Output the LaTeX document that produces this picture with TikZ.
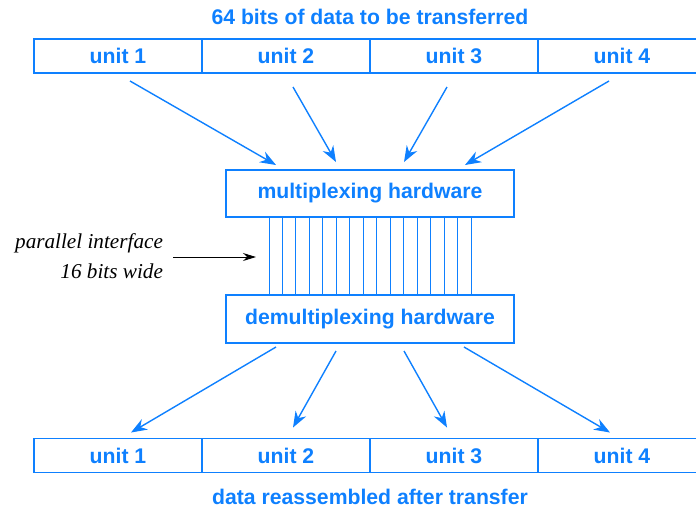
\documentclass[tikz,border=0pt]{standalone}
\usepackage{fontspec}
\setmainfont{Liberation Sans}
\newfontfamily\noteserif{Liberation Serif}
\usetikzlibrary{arrows.meta,positioning}
\definecolor{muxblue}{RGB}{14,128,255}

\begin{document}
\begin{tikzpicture}[
    x=0.5pt, y=-0.5pt,
    node distance=0pt,
    unitbox/.style={draw=muxblue, line width=0.85pt, text=muxblue, outer sep=0pt, minimum width=84pt, minimum height=17pt, font=\fontsize{10.6}{12}\selectfont\bfseries},
    hwbox/.style={draw=muxblue, line width=0.85pt, text=muxblue, outer sep=0pt, minimum width=144pt, minimum height=24pt, font=\fontsize{10.6}{12}\selectfont\bfseries},
    caption/.style={text=muxblue, font=\fontsize{10.6}{12}\selectfont\bfseries},
    note/.style={align=right, font=\fontsize{10.6}{15}\selectfont\noteserif\itshape},
    flow/.style={-{Stealth[length=8pt, width=6pt]}, muxblue, line width=0.7pt},
    wire/.style={muxblue, line width=0.5pt},
    pointer/.style={-{Stealth[length=6.5pt, width=4pt]}, black, line width=0.5pt}
  ]
    \useasboundingbox (0,0) rectangle (696,510);
    % data before transfer
    \node[caption] (srctitle) at (370,17) {64 bits of data to be transferred};
    \node[unitbox] (s1) at (118,56) {unit 1};
    \node[unitbox, right=of s1] (s2) {unit 2};
    \node[unitbox, right=of s2] (s3) {unit 3};
    \node[unitbox, right=of s3] (s4) {unit 4};
    % hardware
    \node[hwbox, minimum height=23.5pt] (mux) at (370,193.5) {multiplexing hardware};
    \node[hwbox] (demux) at (370,319) {demultiplexing hardware};
    % data after transfer
    \node[unitbox] (d1) at (118,455.5) {unit 1};
    \node[unitbox, right=of d1] (d2) {unit 2};
    \node[unitbox, right=of d2] (d3) {unit 3};
    \node[unitbox, right=of d3] (d4) {unit 4};
    \node[caption] (dsttitle) at (370,497) {data reassembled after transfer};
    % interface label
    \node[note, anchor=east] (ifnote) at (170,256) {parallel interface\\16 bits wide};
    \coordinate (ifc) at (256,257);
    % 16 wires
    \foreach \i in {0,...,15}
      \draw[wire] ([xshift=21.5pt+\i*6.735pt]mux.south west) -- ([xshift=21.5pt+\i*6.735pt]demux.north west);
    \draw[flow] ([xshift=6pt, yshift=-4pt]s1.south) -- ([xshift=-47pt, yshift=2.5pt]mux.north);
    \draw[flow] ([xshift=3.5pt, yshift=-7pt]s2.south) -- ([xshift=-17pt, yshift=4pt]mux.north);
    \draw[flow] ([xshift=-3.5pt, yshift=-7pt]s3.south) -- ([xshift=17pt, yshift=4pt]mux.north);
    \draw[flow] ([xshift=-6.5pt, yshift=-4pt]s4.south) -- ([xshift=47.5pt, yshift=2.5pt]mux.north);
    \draw[flow] ([xshift=-47pt, yshift=-2pt]demux.south) -- ([xshift=6.5pt, yshift=3pt]d1.north);
    \draw[flow] ([xshift=-17pt, yshift=-4pt]demux.south) -- ([xshift=3.5pt, yshift=5.5pt]d2.north);
    \draw[flow] ([xshift=17pt, yshift=-4pt]demux.south) -- ([xshift=-3.5pt, yshift=5.5pt]d3.north);
    \draw[flow] ([xshift=47pt, yshift=-2pt]demux.south) -- ([xshift=-6pt, yshift=3pt]d4.north);
    \draw[pointer] ([xshift=1.5pt, yshift=-0.5pt]ifnote.east) -- (ifc);
  \end{tikzpicture}
\end{document}
